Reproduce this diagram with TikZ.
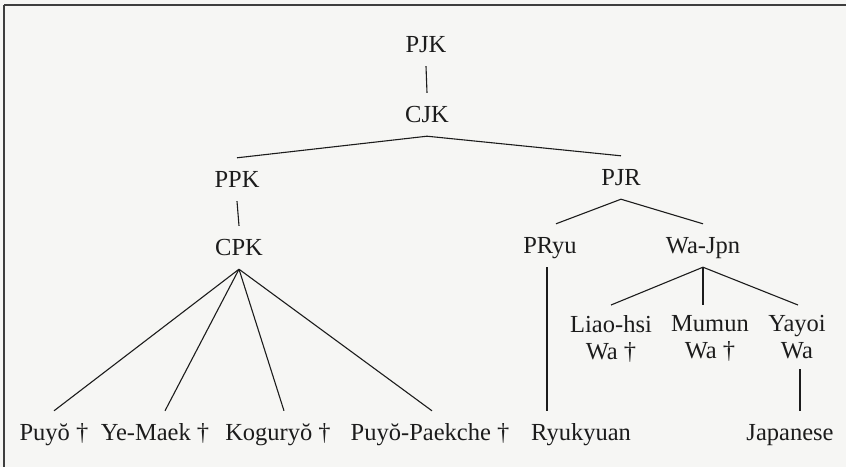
\documentclass[tikz,border=0pt]{standalone}
\usepackage{fontspec}
\setmainfont{Liberation Serif}
\definecolor{paper}{RGB}{246,246,244}
\definecolor{ink}{RGB}{28,28,28}
\begin{document}
\begin{tikzpicture}[x=1pt,y=-1pt,
  lang/.style={font=\fontsize{24.5}{27}\selectfont, text=ink, anchor=base,
    inner xsep=0pt, inner ysep=10pt, text height=19pt, text depth=4pt},
  lang2/.style={font=\fontsize{24.5}{27}\selectfont, text=ink, anchor=north,
    inner xsep=0pt, inner ysep=10pt, align=center},
  branch/.style={draw=ink, line width=1.1pt},
  frameline/.style={draw=ink!85, line width=1.6pt}]
  % page and partial frame
  \fill[paper] (0,0) rectangle (846,467);
  \useasboundingbox (0,0) rectangle (846,467);
  \coordinate (ftr) at (846,5);
  \coordinate (ftl) at (4,5);
  \coordinate (fbl) at (4,467);
  \draw[frameline] (ftr) -- (ftl);
  \draw[frameline, line width=1.1pt] (ftl) -- (fbl);

  % proto-languages
  \node[lang] (pjk)  at (426,52)  {PJK};
  \node[lang] (cjk)  at (427,122) {CJK};
  \node[lang] (ppk)  at (237,187) {PPK};
  \node[lang] (cpk)  at (239,255) {CPK};
  \node[lang] (pjr)  at (621,185) {PJR};
  \node[lang] (pryu) at (550,253) {PRyu};
  \node[lang] (wajpn) at (703,253) {Wa-Jpn};

  % Wa branches
  \node[lang2] (liao)  at (611,305) {Liao-hsi\\Wa †};
  \node[lang2] (mumun) at (710,305) {Mumun\\Wa †};
  \node[lang2] (yayoi) at (797,305) {Yayoi\\Wa};

  % attested languages
  \node[lang] (puyo)   at (54,440)  {Puyŏ †};
  \node[lang] (yemaek) at (155,440) {Ye-Maek †};
  \node[lang] (kogu)   at (278,440) {Koguryŏ †};
  \node[lang] (paek)   at (430,440) {Puyŏ-Paekche †};
  \node[lang] (ryuk)   at (581,440) {Ryukyuan};
  \node[lang] (jap)    at (790,440) {Japanese};

  % connectors
  \draw[branch] (pjk.south) -- (cjk.north);
  \draw[branch] (ppk.north) -- (cjk.south) -- (pjr.north);
  \draw[branch] (ppk.south) -- (cpk.north);
  \draw[branch] (puyo.north) -- (cpk.south);
  \draw[branch] ([xshift=10pt]yemaek.north) -- (cpk.south);
  \draw[branch] ([xshift=6pt]kogu.north) -- (cpk.south);
  \draw[branch] ([xshift=2pt]paek.north) -- (cpk.south);
  \draw[branch] ([xshift=6pt]pryu.north) -- (pjr.south) -- (wajpn.north);
  \draw[branch] ([xshift=-3pt]pryu.south) -- ([xshift=-3pt]pryu.south |- ryuk.north);
  \draw[branch] (liao.north) -- (wajpn.south) -- ([xshift=1pt]yayoi.north);
  \draw[branch] (wajpn.south) -- (wajpn.south |- mumun.north);
  \draw[branch] ([xshift=3pt]yayoi.south) -- ([xshift=3pt]yayoi.south |- jap.north);
\end{tikzpicture}
\end{document}
